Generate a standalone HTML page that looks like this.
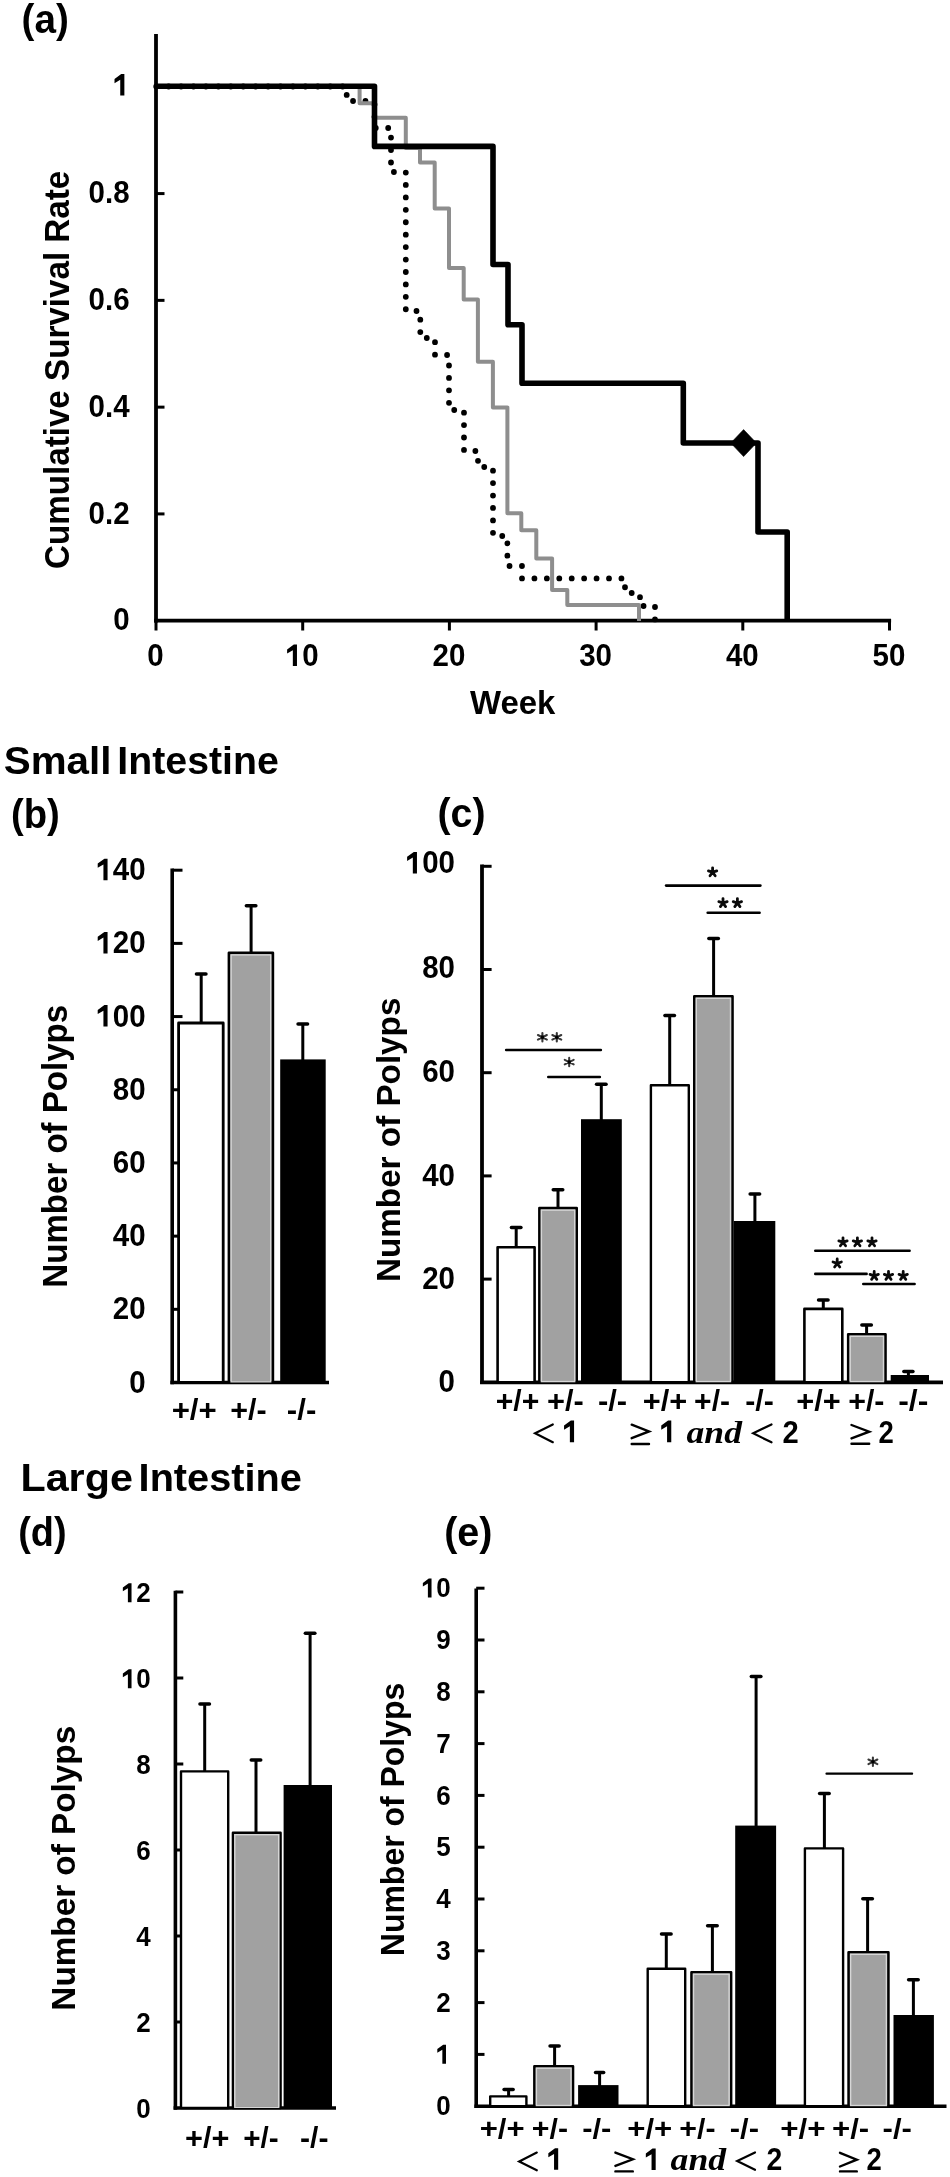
<!DOCTYPE html>
<html><head><meta charset="utf-8"><title>Figure</title>
<style>
html,body{margin:0;padding:0;background:#fff;width:950px;height:2177px;overflow:hidden;}
svg{display:block;font-family:"Liberation Sans",sans-serif;filter:grayscale(100%);}
</style></head><body>
<svg width="950" height="2177" viewBox="0 0 950 2177">
<text x="21.57" y="33.4" textLength="47.26" lengthAdjust="spacingAndGlyphs" style="font-family:'Liberation Sans', sans-serif;font-size:40.5px;font-weight:bold;" fill="#000">(a)</text>
<line x1="156" y1="34" x2="156" y2="622.6" stroke="#000" stroke-width="3.8" stroke-linecap="butt"/>
<line x1="154.1" y1="620.7" x2="891.1" y2="620.7" stroke="#000" stroke-width="3.8" stroke-linecap="butt"/>
<text x="113.19" y="630.5" text-anchor="start" style="font-family:'Liberation Sans', sans-serif;font-size:29.5px;font-weight:bold;" fill="#000" transform="matrix(1 0 0 1.0350 0 -22.067)">0</text>
<line x1="156" y1="513.92" x2="164.5" y2="513.92" stroke="#000" stroke-width="3" stroke-linecap="butt"/>
<text x="88.59" y="523.72" text-anchor="start" style="font-family:'Liberation Sans', sans-serif;font-size:29.5px;font-weight:bold;" fill="#000" transform="matrix(1 0 0 1.0350 0 -18.330)">0.2</text>
<line x1="156" y1="407.14" x2="164.5" y2="407.14" stroke="#000" stroke-width="3" stroke-linecap="butt"/>
<text x="88.59" y="416.94" text-anchor="start" style="font-family:'Liberation Sans', sans-serif;font-size:29.5px;font-weight:bold;" fill="#000" transform="matrix(1 0 0 1.0350 0 -14.593)">0.4</text>
<line x1="156" y1="300.36" x2="164.5" y2="300.36" stroke="#000" stroke-width="3" stroke-linecap="butt"/>
<text x="88.59" y="310.16" text-anchor="start" style="font-family:'Liberation Sans', sans-serif;font-size:29.5px;font-weight:bold;" fill="#000" transform="matrix(1 0 0 1.0350 0 -10.856)">0.6</text>
<line x1="156" y1="193.58" x2="164.5" y2="193.58" stroke="#000" stroke-width="3" stroke-linecap="butt"/>
<text x="88.59" y="203.38" text-anchor="start" style="font-family:'Liberation Sans', sans-serif;font-size:29.5px;font-weight:bold;" fill="#000" transform="matrix(1 0 0 1.0350 0 -7.118)">0.8</text>
<line x1="156" y1="86.8" x2="164.5" y2="86.8" stroke="#000" stroke-width="3" stroke-linecap="butt"/>
<path d="M124.37,95.6 L124.37,74.12 L121.22,74.12 L114.52,79.02 L114.52,83.15 L120.24,79.79 L120.24,95.6Z" fill="#000"/>
<line x1="156" y1="620.7" x2="156" y2="630.5" stroke="#000" stroke-width="3" stroke-linecap="butt"/>
<text x="147.3" y="666" text-anchor="start" style="font-family:'Liberation Sans', sans-serif;font-size:29.5px;font-weight:bold;" fill="#000" transform="matrix(1 0 0 1.0350 0 -23.310)">0</text>
<line x1="302.7" y1="620.7" x2="302.7" y2="630.5" stroke="#000" stroke-width="3" stroke-linecap="butt"/>
<path d="M296.97,666 L296.97,644.52 L293.82,644.52 L287.12,649.42 L287.12,653.55 L292.84,650.19 L292.84,666Z" fill="#000"/>
<text x="302.2" y="666" text-anchor="start" style="font-family:'Liberation Sans', sans-serif;font-size:29.5px;font-weight:bold;" fill="#000" transform="matrix(1 0 0 1.0350 0 -23.310)">0</text>
<line x1="449.4" y1="620.7" x2="449.4" y2="630.5" stroke="#000" stroke-width="3" stroke-linecap="butt"/>
<text x="432.49" y="666" text-anchor="start" style="font-family:'Liberation Sans', sans-serif;font-size:29.5px;font-weight:bold;" fill="#000" transform="matrix(1 0 0 1.0350 0 -23.310)">20</text>
<line x1="596.1" y1="620.7" x2="596.1" y2="630.5" stroke="#000" stroke-width="3" stroke-linecap="butt"/>
<text x="579.19" y="666" text-anchor="start" style="font-family:'Liberation Sans', sans-serif;font-size:29.5px;font-weight:bold;" fill="#000" transform="matrix(1 0 0 1.0350 0 -23.310)">30</text>
<line x1="742.8" y1="620.7" x2="742.8" y2="630.5" stroke="#000" stroke-width="3" stroke-linecap="butt"/>
<text x="725.89" y="666" text-anchor="start" style="font-family:'Liberation Sans', sans-serif;font-size:29.5px;font-weight:bold;" fill="#000" transform="matrix(1 0 0 1.0350 0 -23.310)">40</text>
<line x1="889.5" y1="620.7" x2="889.5" y2="630.5" stroke="#000" stroke-width="3" stroke-linecap="butt"/>
<text x="872.59" y="666" text-anchor="start" style="font-family:'Liberation Sans', sans-serif;font-size:29.5px;font-weight:bold;" fill="#000" transform="matrix(1 0 0 1.0350 0 -23.310)">50</text>
<text x="470" y="714.4" textLength="85.28" lengthAdjust="spacingAndGlyphs" style="font-family:'Liberation Sans', sans-serif;font-size:34px;font-weight:bold;" fill="#000">Week</text>
<text transform="translate(68.7,0) rotate(-90)" x="-569.03" y="0" textLength="398.28" lengthAdjust="spacingAndGlyphs" style="font-family:'Liberation Sans', sans-serif;font-size:35.2px;font-weight:bold;">Cumulative Survival Rate</text>
<path d="M156,86.5 L346.7,86.5 L346.7,101 L374.5,101 L374.5,128 L391,128 L391,172 L405.8,172 L405.8,311 L420.3,311 L420.3,338 L435,338 L435,355 L449,355 L449,410 L464,410 L464,451 L478,451 L478,467 L493,467 L493,536 L507.4,536 L507.4,566 L522,566 L522,578.4 L625,578.4 L625,593 L640,593 L640,606 L655,606 L655,620.7" fill="none" stroke="#000" stroke-width="5.8" stroke-linecap="round" stroke-dasharray="0 12.43" stroke-dashoffset="-0.23"/>
<path d="M156,86.5 L359.6,86.5 L359.6,103.2 L375,103.2 L375,117.7 L405.8,117.7 L405.8,148 L420,148 L420,162.6 L434.7,162.6 L434.7,208.4 L449,208.4 L449,267.9 L463.7,267.9 L463.7,299.5 L477.9,299.5 L477.9,361.8 L492.9,361.8 L492.9,407.4 L507.4,407.4 L507.4,513.2 L521.3,513.2 L521.3,530.2 L536.3,530.2 L536.3,558.5 L552.1,558.5 L552.1,590 L567.3,590 L567.3,604.9 L639,604.9 L639,621" fill="none" stroke="#8e8e8e" stroke-width="4.0" stroke-linejoin="round"/>
<path d="M156,86.3 L374.5,86.3 L374.5,146.4 L493,146.4 L493,264.5 L508,264.5 L508,324.7 L522,324.7 L522,383.2 L683.3,383.2 L683.3,443 L758,443 L758,532 L787.2,532 L787.2,620.7" fill="none" stroke="#000" stroke-width="5.6" stroke-linejoin="round"/>
<path d="M743.6,429.6 L756.4,443 L743.6,456.6 L730.8,443 Z" fill="#000" stroke="#000" stroke-width="0.6" stroke-linejoin="round"/>
<text x="3.69" y="774" textLength="107.76" lengthAdjust="spacingAndGlyphs" style="font-family:'Liberation Sans', sans-serif;font-size:39.5px;font-weight:bold;" fill="#000">Small</text>
<text x="117.35" y="774" textLength="161.5" lengthAdjust="spacingAndGlyphs" style="font-family:'Liberation Sans', sans-serif;font-size:39.5px;font-weight:bold;" fill="#000">Intestine</text>
<text x="20.42" y="1491.3" textLength="112.46" lengthAdjust="spacingAndGlyphs" style="font-family:'Liberation Sans', sans-serif;font-size:39.5px;font-weight:bold;" fill="#000">Large</text>
<text x="138.62" y="1491.3" textLength="163.15" lengthAdjust="spacingAndGlyphs" style="font-family:'Liberation Sans', sans-serif;font-size:39.5px;font-weight:bold;" fill="#000">Intestine</text>
<text x="10.98" y="827.6" textLength="48.91" lengthAdjust="spacingAndGlyphs" style="font-family:'Liberation Sans', sans-serif;font-size:40.5px;font-weight:bold;" fill="#000">(b)</text>
<line x1="172.2" y1="868.5" x2="172.2" y2="1384.3" stroke="#000" stroke-width="3.6" stroke-linecap="butt"/>
<line x1="170.4" y1="1382.5" x2="329" y2="1382.5" stroke="#000" stroke-width="3.6" stroke-linecap="butt"/>
<text x="129.19" y="1392.5" text-anchor="start" style="font-family:'Liberation Sans', sans-serif;font-size:29.5px;font-weight:bold;" fill="#000" transform="matrix(1 0 0 1.0350 0 -48.737)">0</text>
<line x1="172.2" y1="1309.31" x2="182.5" y2="1309.31" stroke="#000" stroke-width="3" stroke-linecap="butt"/>
<text x="112.79" y="1319.31" text-anchor="start" style="font-family:'Liberation Sans', sans-serif;font-size:29.5px;font-weight:bold;" fill="#000" transform="matrix(1 0 0 1.0350 0 -46.176)">20</text>
<line x1="172.2" y1="1236.13" x2="182.5" y2="1236.13" stroke="#000" stroke-width="3" stroke-linecap="butt"/>
<text x="112.79" y="1246.13" text-anchor="start" style="font-family:'Liberation Sans', sans-serif;font-size:29.5px;font-weight:bold;" fill="#000" transform="matrix(1 0 0 1.0350 0 -43.614)">40</text>
<line x1="172.2" y1="1162.94" x2="182.5" y2="1162.94" stroke="#000" stroke-width="3" stroke-linecap="butt"/>
<text x="112.79" y="1172.94" text-anchor="start" style="font-family:'Liberation Sans', sans-serif;font-size:29.5px;font-weight:bold;" fill="#000" transform="matrix(1 0 0 1.0350 0 -41.053)">60</text>
<line x1="172.2" y1="1089.76" x2="182.5" y2="1089.76" stroke="#000" stroke-width="3" stroke-linecap="butt"/>
<text x="112.79" y="1099.76" text-anchor="start" style="font-family:'Liberation Sans', sans-serif;font-size:29.5px;font-weight:bold;" fill="#000" transform="matrix(1 0 0 1.0350 0 -38.491)">80</text>
<line x1="172.2" y1="1016.57" x2="182.5" y2="1016.57" stroke="#000" stroke-width="3" stroke-linecap="butt"/>
<path d="M107.56,1026.57 L107.56,1005.1 L104.4,1005.1 L97.71,1009.99 L97.71,1014.12 L103.43,1010.76 L103.43,1026.57Z" fill="#000"/>
<text x="112.79" y="1026.57" text-anchor="start" style="font-family:'Liberation Sans', sans-serif;font-size:29.5px;font-weight:bold;" fill="#000" transform="matrix(1 0 0 1.0350 0 -35.930)">00</text>
<line x1="172.2" y1="943.39" x2="182.5" y2="943.39" stroke="#000" stroke-width="3" stroke-linecap="butt"/>
<path d="M107.56,953.39 L107.56,931.91 L104.4,931.91 L97.71,936.81 L97.71,940.94 L103.43,937.57 L103.43,953.39Z" fill="#000"/>
<text x="112.79" y="953.39" text-anchor="start" style="font-family:'Liberation Sans', sans-serif;font-size:29.5px;font-weight:bold;" fill="#000" transform="matrix(1 0 0 1.0350 0 -33.368)">20</text>
<line x1="172.2" y1="870.2" x2="182.5" y2="870.2" stroke="#000" stroke-width="3" stroke-linecap="butt"/>
<path d="M107.56,880.2 L107.56,858.72 L104.4,858.72 L97.71,863.62 L97.71,867.75 L103.43,864.39 L103.43,880.2Z" fill="#000"/>
<text x="112.79" y="880.2" text-anchor="start" style="font-family:'Liberation Sans', sans-serif;font-size:29.5px;font-weight:bold;" fill="#000" transform="matrix(1 0 0 1.0350 0 -30.807)">40</text>
<rect x="178.6" y="1023" width="44.6" height="359.5" fill="#fff" stroke="#000" stroke-width="2.8" stroke-linejoin="round"/>
<rect x="229" y="952.8" width="43.8" height="429.7" fill="#a1a1a1" stroke="#000" stroke-width="2.8" stroke-linejoin="round"/>
<rect x="231.1" y="954.9" width="39.6" height="426.9" fill="none" stroke="#d6d6d6" stroke-width="1.4"/>
<rect x="280.2" y="1059.4" width="45.5" height="323.1" fill="#000"/>
<line x1="201.2" y1="1022" x2="201.2" y2="974" stroke="#000" stroke-width="3" stroke-linecap="butt"/>
<line x1="196.45" y1="974" x2="205.95" y2="974" stroke="#000" stroke-width="3.5" stroke-linecap="round"/>
<line x1="251.1" y1="952" x2="251.1" y2="905.8" stroke="#000" stroke-width="3" stroke-linecap="butt"/>
<line x1="246.35" y1="905.8" x2="255.85" y2="905.8" stroke="#000" stroke-width="3.5" stroke-linecap="round"/>
<line x1="302.8" y1="1060" x2="302.8" y2="1024" stroke="#000" stroke-width="3" stroke-linecap="butt"/>
<line x1="298.05" y1="1024" x2="307.55" y2="1024" stroke="#000" stroke-width="3.5" stroke-linecap="round"/>
<text x="171.65" y="1419.5" textLength="45.12" lengthAdjust="spacingAndGlyphs" style="font-family:'Liberation Sans', sans-serif;font-size:30px;font-weight:bold;" fill="#000">+/+</text>
<text x="230.28" y="1419.5" textLength="36.43" lengthAdjust="spacingAndGlyphs" style="font-family:'Liberation Sans', sans-serif;font-size:30px;font-weight:bold;" fill="#000">+/-</text>
<text x="286.85" y="1419.5" textLength="29.46" lengthAdjust="spacingAndGlyphs" style="font-family:'Liberation Sans', sans-serif;font-size:30px;font-weight:bold;" fill="#000">-/-</text>
<text transform="translate(66.6,0) rotate(-90)" x="-1287.65" y="0" textLength="282.83" lengthAdjust="spacingAndGlyphs" style="font-family:'Liberation Sans', sans-serif;font-size:35px;font-weight:bold;">Number of Polyps</text>
<text x="437.54" y="827" textLength="48.02" lengthAdjust="spacingAndGlyphs" style="font-family:'Liberation Sans', sans-serif;font-size:40.5px;font-weight:bold;" fill="#000">(c)</text>
<line x1="482" y1="864.5" x2="482" y2="1384.1" stroke="#000" stroke-width="3.8" stroke-linecap="butt"/>
<line x1="480.1" y1="1382.3" x2="943" y2="1382.3" stroke="#000" stroke-width="3.8" stroke-linecap="butt"/>
<text x="438.59" y="1392.2" text-anchor="start" style="font-family:'Liberation Sans', sans-serif;font-size:29.5px;font-weight:bold;" fill="#000" transform="matrix(1 0 0 1.0350 0 -48.727)">0</text>
<line x1="482" y1="1279.1" x2="491.6" y2="1279.1" stroke="#000" stroke-width="3" stroke-linecap="butt"/>
<text x="422.19" y="1288.9" text-anchor="start" style="font-family:'Liberation Sans', sans-serif;font-size:29.5px;font-weight:bold;" fill="#000" transform="matrix(1 0 0 1.0350 0 -45.111)">20</text>
<line x1="482" y1="1175.9" x2="491.6" y2="1175.9" stroke="#000" stroke-width="3" stroke-linecap="butt"/>
<text x="422.19" y="1186.2" text-anchor="start" style="font-family:'Liberation Sans', sans-serif;font-size:29.5px;font-weight:bold;" fill="#000" transform="matrix(1 0 0 1.0350 0 -41.517)">40</text>
<line x1="482" y1="1072.7" x2="491.6" y2="1072.7" stroke="#000" stroke-width="3" stroke-linecap="butt"/>
<text x="422.19" y="1081.8" text-anchor="start" style="font-family:'Liberation Sans', sans-serif;font-size:29.5px;font-weight:bold;" fill="#000" transform="matrix(1 0 0 1.0350 0 -37.863)">60</text>
<line x1="482" y1="969.5" x2="491.6" y2="969.5" stroke="#000" stroke-width="3" stroke-linecap="butt"/>
<text x="422.19" y="978.1" text-anchor="start" style="font-family:'Liberation Sans', sans-serif;font-size:29.5px;font-weight:bold;" fill="#000" transform="matrix(1 0 0 1.0350 0 -34.233)">80</text>
<line x1="482" y1="866.3" x2="491.6" y2="866.3" stroke="#000" stroke-width="3" stroke-linecap="butt"/>
<path d="M416.96,873.4 L416.96,851.92 L413.8,851.92 L407.11,856.82 L407.11,860.95 L412.83,857.59 L412.83,873.4Z" fill="#000"/>
<text x="422.19" y="873.4" text-anchor="start" style="font-family:'Liberation Sans', sans-serif;font-size:29.5px;font-weight:bold;" fill="#000" transform="matrix(1 0 0 1.0350 0 -30.569)">00</text>
<rect x="497.6" y="1247.3" width="37" height="135" fill="#fff" stroke="#000" stroke-width="2.6" stroke-linejoin="round"/>
<rect x="539.4" y="1208.1" width="37.3" height="174.2" fill="#a1a1a1" stroke="#000" stroke-width="2.6" stroke-linejoin="round"/>
<rect x="541.4" y="1210.1" width="33.3" height="171.5" fill="none" stroke="#d6d6d6" stroke-width="1.4"/>
<rect x="581" y="1119.2" width="40.8" height="263.1" fill="#000"/>
<line x1="516.2" y1="1247" x2="516.2" y2="1227.4" stroke="#000" stroke-width="3" stroke-linecap="butt"/>
<line x1="511.45" y1="1227.4" x2="520.95" y2="1227.4" stroke="#000" stroke-width="3.5" stroke-linecap="round"/>
<line x1="558" y1="1208" x2="558" y2="1189.8" stroke="#000" stroke-width="3" stroke-linecap="butt"/>
<line x1="553.25" y1="1189.8" x2="562.75" y2="1189.8" stroke="#000" stroke-width="3.5" stroke-linecap="round"/>
<line x1="601.3" y1="1121" x2="601.3" y2="1084.2" stroke="#000" stroke-width="3" stroke-linecap="butt"/>
<line x1="596.55" y1="1084.2" x2="606.05" y2="1084.2" stroke="#000" stroke-width="3.5" stroke-linecap="round"/>
<rect x="650.9" y="1085.2" width="37.9" height="297.1" fill="#fff" stroke="#000" stroke-width="2.4" stroke-linejoin="round"/>
<rect x="694.3" y="996.3" width="38.2" height="386" fill="#a1a1a1" stroke="#000" stroke-width="2.6" stroke-linejoin="round"/>
<rect x="696.3" y="998.3" width="34.2" height="383.3" fill="none" stroke="#d6d6d6" stroke-width="1.4"/>
<rect x="733.8" y="1221" width="41.5" height="161.3" fill="#000"/>
<line x1="669.7" y1="1086" x2="669.7" y2="1015.5" stroke="#000" stroke-width="3" stroke-linecap="butt"/>
<line x1="664.95" y1="1015.5" x2="674.45" y2="1015.5" stroke="#000" stroke-width="3.5" stroke-linecap="round"/>
<line x1="713.6" y1="997" x2="713.6" y2="938.5" stroke="#000" stroke-width="3" stroke-linecap="butt"/>
<line x1="708.85" y1="938.5" x2="718.35" y2="938.5" stroke="#000" stroke-width="3.5" stroke-linecap="round"/>
<line x1="754.9" y1="1222" x2="754.9" y2="1194.1" stroke="#000" stroke-width="3" stroke-linecap="butt"/>
<line x1="750.15" y1="1194.1" x2="759.65" y2="1194.1" stroke="#000" stroke-width="3.5" stroke-linecap="round"/>
<rect x="804.4" y="1308.9" width="37.9" height="73.4" fill="#fff" stroke="#000" stroke-width="2.6" stroke-linejoin="round"/>
<rect x="848.2" y="1334.3" width="37.3" height="48" fill="#a1a1a1" stroke="#000" stroke-width="2.6" stroke-linejoin="round"/>
<rect x="850.2" y="1336.3" width="33.3" height="45.3" fill="none" stroke="#d6d6d6" stroke-width="1.4"/>
<rect x="890.7" y="1375" width="38.3" height="7.3" fill="#000"/>
<line x1="823.3" y1="1309" x2="823.3" y2="1300" stroke="#000" stroke-width="3" stroke-linecap="butt"/>
<line x1="818.55" y1="1300" x2="828.05" y2="1300" stroke="#000" stroke-width="3.5" stroke-linecap="round"/>
<line x1="866.6" y1="1334" x2="866.6" y2="1324.9" stroke="#000" stroke-width="3" stroke-linecap="butt"/>
<line x1="861.85" y1="1324.9" x2="871.35" y2="1324.9" stroke="#000" stroke-width="3.5" stroke-linecap="round"/>
<line x1="908.4" y1="1376" x2="908.4" y2="1371.6" stroke="#000" stroke-width="3" stroke-linecap="butt"/>
<line x1="903.85" y1="1371.6" x2="912.95" y2="1371.6" stroke="#000" stroke-width="3.5" stroke-linecap="round"/>
<line x1="506.1" y1="1050" x2="600.9" y2="1050" stroke="#000" stroke-width="2.4" stroke-linecap="round"/>
<line x1="548.2" y1="1077" x2="599.9" y2="1077" stroke="#000" stroke-width="2.4" stroke-linecap="round"/>
<path d="M542.4,1033.1L542.4,1041.5M537.94,1035.03L546.86,1039.57M537.94,1039.57L546.86,1035.03" stroke="#383838" stroke-width="2.1" stroke-linecap="round" fill="none"/>
<circle cx="542.4" cy="1037.3" r="1.8" fill="#000"/>
<path d="M556.8,1033.1L556.8,1041.5M552.34,1035.03L561.26,1039.57M552.34,1039.57L561.26,1035.03" stroke="#383838" stroke-width="2.1" stroke-linecap="round" fill="none"/>
<circle cx="556.8" cy="1037.3" r="1.8" fill="#000"/>
<path d="M569.2,1057.9L569.2,1066.3M564.74,1059.83L573.66,1064.37M564.74,1064.37L573.66,1059.83" stroke="#383838" stroke-width="2.1" stroke-linecap="round" fill="none"/>
<circle cx="569.2" cy="1062.1" r="1.8" fill="#000"/>
<line x1="666.1" y1="885.6" x2="760.4" y2="885.6" stroke="#000" stroke-width="2.6" stroke-linecap="round"/>
<line x1="707.7" y1="912.8" x2="759.6" y2="912.8" stroke="#000" stroke-width="2.6" stroke-linecap="round"/>
<path d="M712.6,872.2L712.6,867.8M712.6,872.2L716.78,870.84M712.6,872.2L715.19,875.76M712.6,872.2L710.01,875.76M712.6,872.2L708.42,870.84" stroke="#0a0a0a" stroke-width="2.8" stroke-linecap="round" fill="none"/>
<path d="M723,903L723,898.6M723,903L727.18,901.64M723,903L725.59,906.56M723,903L720.41,906.56M723,903L718.82,901.64" stroke="#0a0a0a" stroke-width="2.8" stroke-linecap="round" fill="none"/>
<path d="M737.4,903L737.4,898.6M737.4,903L741.58,901.64M737.4,903L739.99,906.56M737.4,903L734.81,906.56M737.4,903L733.22,901.64" stroke="#0a0a0a" stroke-width="2.8" stroke-linecap="round" fill="none"/>
<line x1="815.3" y1="1250.8" x2="909.6" y2="1250.8" stroke="#000" stroke-width="2.6" stroke-linecap="round"/>
<line x1="815.3" y1="1273.9" x2="866.6" y2="1273.9" stroke="#000" stroke-width="2.6" stroke-linecap="round"/>
<line x1="863.3" y1="1284" x2="914.6" y2="1284" stroke="#000" stroke-width="2.6" stroke-linecap="round"/>
<path d="M843,1242.2L843,1237.8M843,1242.2L847.18,1240.84M843,1242.2L845.59,1245.76M843,1242.2L840.41,1245.76M843,1242.2L838.82,1240.84" stroke="#0a0a0a" stroke-width="2.8" stroke-linecap="round" fill="none"/>
<path d="M857.4,1242.2L857.4,1237.8M857.4,1242.2L861.58,1240.84M857.4,1242.2L859.99,1245.76M857.4,1242.2L854.81,1245.76M857.4,1242.2L853.22,1240.84" stroke="#0a0a0a" stroke-width="2.8" stroke-linecap="round" fill="none"/>
<path d="M872,1242.2L872,1237.8M872,1242.2L876.18,1240.84M872,1242.2L874.59,1245.76M872,1242.2L869.41,1245.76M872,1242.2L867.82,1240.84" stroke="#0a0a0a" stroke-width="2.8" stroke-linecap="round" fill="none"/>
<path d="M837.2,1263.4L837.2,1259M837.2,1263.4L841.38,1262.04M837.2,1263.4L839.79,1266.96M837.2,1263.4L834.61,1266.96M837.2,1263.4L833.02,1262.04" stroke="#0a0a0a" stroke-width="2.8" stroke-linecap="round" fill="none"/>
<path d="M874.2,1275.8L874.2,1271.4M874.2,1275.8L878.38,1274.44M874.2,1275.8L876.79,1279.36M874.2,1275.8L871.61,1279.36M874.2,1275.8L870.02,1274.44" stroke="#0a0a0a" stroke-width="2.8" stroke-linecap="round" fill="none"/>
<path d="M888.5,1275.8L888.5,1271.4M888.5,1275.8L892.68,1274.44M888.5,1275.8L891.09,1279.36M888.5,1275.8L885.91,1279.36M888.5,1275.8L884.32,1274.44" stroke="#0a0a0a" stroke-width="2.8" stroke-linecap="round" fill="none"/>
<path d="M903.2,1275.8L903.2,1271.4M903.2,1275.8L907.38,1274.44M903.2,1275.8L905.79,1279.36M903.2,1275.8L900.61,1279.36M903.2,1275.8L899.02,1274.44" stroke="#0a0a0a" stroke-width="2.8" stroke-linecap="round" fill="none"/>
<text x="495.69" y="1411" textLength="43.64" lengthAdjust="spacingAndGlyphs" style="font-family:'Liberation Sans', sans-serif;font-size:30px;font-weight:bold;" fill="#000">+/+</text>
<text x="546.97" y="1411" textLength="36.76" lengthAdjust="spacingAndGlyphs" style="font-family:'Liberation Sans', sans-serif;font-size:30px;font-weight:bold;" fill="#000">+/-</text>
<text x="597.96" y="1411" textLength="29.24" lengthAdjust="spacingAndGlyphs" style="font-family:'Liberation Sans', sans-serif;font-size:30px;font-weight:bold;" fill="#000">-/-</text>
<text x="642.67" y="1411" textLength="44.49" lengthAdjust="spacingAndGlyphs" style="font-family:'Liberation Sans', sans-serif;font-size:30px;font-weight:bold;" fill="#000">+/+</text>
<text x="694.1" y="1411" textLength="35.9" lengthAdjust="spacingAndGlyphs" style="font-family:'Liberation Sans', sans-serif;font-size:30px;font-weight:bold;" fill="#000">+/-</text>
<text x="745.29" y="1411" textLength="28.59" lengthAdjust="spacingAndGlyphs" style="font-family:'Liberation Sans', sans-serif;font-size:30px;font-weight:bold;" fill="#000">-/-</text>
<text x="796.27" y="1411" textLength="44.49" lengthAdjust="spacingAndGlyphs" style="font-family:'Liberation Sans', sans-serif;font-size:30px;font-weight:bold;" fill="#000">+/+</text>
<text x="848.18" y="1411" textLength="36.33" lengthAdjust="spacingAndGlyphs" style="font-family:'Liberation Sans', sans-serif;font-size:30px;font-weight:bold;" fill="#000">+/-</text>
<text x="898.22" y="1411" textLength="30.12" lengthAdjust="spacingAndGlyphs" style="font-family:'Liberation Sans', sans-serif;font-size:30px;font-weight:bold;" fill="#000">-/-</text>
<path d="M552.8,1424.5L535.1,1433.35L552.8,1442.2" stroke="#000" stroke-width="2.2" fill="none" stroke-linecap="round" stroke-linejoin="miter"/>
<path d="M574.07,1442.3 L574.07,1420.46 L570.86,1420.46 L564.05,1425.44 L564.05,1429.64 L569.87,1426.22 L569.87,1442.3Z" fill="#000"/>
<path d="M631.7,1424.7L649,1431.45L631.7,1438.2M631.7,1444L649,1444" stroke="#000" stroke-width="2.4" fill="none" stroke-linecap="round"/>
<path d="M671.27,1442.3 L671.27,1420.46 L668.06,1420.46 L661.25,1425.44 L661.25,1429.64 L667.07,1426.22 L667.07,1442.3Z" fill="#000"/>
<text x="686.54" y="1442.8" textLength="55.44" lengthAdjust="spacingAndGlyphs" style="font-family:'Liberation Serif', serif;font-size:30.5px;font-weight:bold;font-style:italic;" fill="#000">and</text>
<path d="M771.5,1424.4L753.2,1433.35L771.5,1442.3" stroke="#000" stroke-width="2.2" fill="none" stroke-linecap="round" stroke-linejoin="miter"/>
<text x="782.48" y="1442.8" textLength="16.22" lengthAdjust="spacingAndGlyphs" style="font-family:'Liberation Sans', sans-serif;font-size:30px;font-weight:bold;" fill="#000" transform="matrix(1 0 0 1.0350 0 -50.498)">2</text>
<path d="M851.5,1425L869.2,1431.7L851.5,1438.4M851.5,1443.8L869.2,1443.8" stroke="#000" stroke-width="2.4" fill="none" stroke-linecap="round"/>
<text x="878.54" y="1442.8" textLength="15.29" lengthAdjust="spacingAndGlyphs" style="font-family:'Liberation Sans', sans-serif;font-size:30px;font-weight:bold;" fill="#000" transform="matrix(1 0 0 1.0350 0 -50.498)">2</text>
<text transform="translate(400,0) rotate(-90)" x="-1282.06" y="0" textLength="284.45" lengthAdjust="spacingAndGlyphs" style="font-family:'Liberation Sans', sans-serif;font-size:34px;font-weight:bold;">Number of Polyps</text>
<text x="18.21" y="1545.5" textLength="48.37" lengthAdjust="spacingAndGlyphs" style="font-family:'Liberation Sans', sans-serif;font-size:40.5px;font-weight:bold;" fill="#000">(d)</text>
<line x1="175.4" y1="1590.7" x2="175.4" y2="2109.8" stroke="#000" stroke-width="3.6" stroke-linecap="butt"/>
<line x1="173.6" y1="2108" x2="336" y2="2108" stroke="#000" stroke-width="3.6" stroke-linecap="butt"/>
<text x="136.14" y="2118.2" text-anchor="start" style="font-family:'Liberation Sans', sans-serif;font-size:26px;font-weight:bold;" fill="#000" transform="matrix(1 0 0 1.0350 0 -74.137)">0</text>
<line x1="175.4" y1="2022" x2="183.3" y2="2022" stroke="#000" stroke-width="3" stroke-linecap="butt"/>
<text x="136.14" y="2032.2" text-anchor="start" style="font-family:'Liberation Sans', sans-serif;font-size:26px;font-weight:bold;" fill="#000" transform="matrix(1 0 0 1.0350 0 -71.127)">2</text>
<line x1="175.4" y1="1936" x2="183.3" y2="1936" stroke="#000" stroke-width="3" stroke-linecap="butt"/>
<text x="136.14" y="1946.2" text-anchor="start" style="font-family:'Liberation Sans', sans-serif;font-size:26px;font-weight:bold;" fill="#000" transform="matrix(1 0 0 1.0350 0 -68.117)">4</text>
<line x1="175.4" y1="1850" x2="183.3" y2="1850" stroke="#000" stroke-width="3" stroke-linecap="butt"/>
<text x="136.14" y="1860.2" text-anchor="start" style="font-family:'Liberation Sans', sans-serif;font-size:26px;font-weight:bold;" fill="#000" transform="matrix(1 0 0 1.0350 0 -65.107)">6</text>
<line x1="175.4" y1="1764" x2="183.3" y2="1764" stroke="#000" stroke-width="3" stroke-linecap="butt"/>
<text x="136.14" y="1774.2" text-anchor="start" style="font-family:'Liberation Sans', sans-serif;font-size:26px;font-weight:bold;" fill="#000" transform="matrix(1 0 0 1.0350 0 -62.097)">8</text>
<line x1="175.4" y1="1678" x2="183.3" y2="1678" stroke="#000" stroke-width="3" stroke-linecap="butt"/>
<path d="M131.53,1688.2 L131.53,1669.27 L128.75,1669.27 L122.85,1673.59 L122.85,1677.23 L127.89,1674.26 L127.89,1688.2Z" fill="#000"/>
<text x="136.14" y="1688.2" text-anchor="start" style="font-family:'Liberation Sans', sans-serif;font-size:26px;font-weight:bold;" fill="#000" transform="matrix(1 0 0 1.0350 0 -59.087)">0</text>
<line x1="175.4" y1="1592" x2="183.3" y2="1592" stroke="#000" stroke-width="3" stroke-linecap="butt"/>
<path d="M131.53,1602.2 L131.53,1583.27 L128.75,1583.27 L122.85,1587.59 L122.85,1591.23 L127.89,1588.26 L127.89,1602.2Z" fill="#000"/>
<text x="136.14" y="1602.2" text-anchor="start" style="font-family:'Liberation Sans', sans-serif;font-size:26px;font-weight:bold;" fill="#000" transform="matrix(1 0 0 1.0350 0 -56.077)">2</text>
<rect x="181" y="1771.4" width="47.2" height="336.6" fill="#fff" stroke="#000" stroke-width="2.4" stroke-linejoin="round"/>
<rect x="232.9" y="1832.8" width="47.7" height="275.2" fill="#a1a1a1" stroke="#000" stroke-width="2.4" stroke-linejoin="round"/>
<rect x="234.8" y="1834.7" width="43.9" height="272.6" fill="none" stroke="#d6d6d6" stroke-width="1.4"/>
<rect x="283.6" y="1785" width="48.4" height="323" fill="#000"/>
<line x1="204.7" y1="1771" x2="204.7" y2="1703.9" stroke="#000" stroke-width="3" stroke-linecap="butt"/>
<line x1="199.95" y1="1703.9" x2="209.45" y2="1703.9" stroke="#000" stroke-width="3.5" stroke-linecap="round"/>
<line x1="256" y1="1833" x2="256" y2="1760" stroke="#000" stroke-width="3" stroke-linecap="butt"/>
<line x1="251.25" y1="1760" x2="260.75" y2="1760" stroke="#000" stroke-width="3.5" stroke-linecap="round"/>
<line x1="310.1" y1="1786" x2="310.1" y2="1633.2" stroke="#000" stroke-width="3" stroke-linecap="butt"/>
<line x1="305.35" y1="1633.2" x2="314.85" y2="1633.2" stroke="#000" stroke-width="3.5" stroke-linecap="round"/>
<text x="185.07" y="2147.5" textLength="44.38" lengthAdjust="spacingAndGlyphs" style="font-family:'Liberation Sans', sans-serif;font-size:30px;font-weight:bold;" fill="#000">+/+</text>
<text x="243.21" y="2147.5" textLength="35.47" lengthAdjust="spacingAndGlyphs" style="font-family:'Liberation Sans', sans-serif;font-size:30px;font-weight:bold;" fill="#000">+/-</text>
<text x="299.99" y="2147.5" textLength="28.48" lengthAdjust="spacingAndGlyphs" style="font-family:'Liberation Sans', sans-serif;font-size:30px;font-weight:bold;" fill="#000">-/-</text>
<text transform="translate(75.3,0) rotate(-90)" x="-2010.66" y="0" textLength="284.86" lengthAdjust="spacingAndGlyphs" style="font-family:'Liberation Sans', sans-serif;font-size:34px;font-weight:bold;">Number of Polyps</text>
<text x="444.13" y="1545.6" textLength="48.24" lengthAdjust="spacingAndGlyphs" style="font-family:'Liberation Sans', sans-serif;font-size:40.5px;font-weight:bold;" fill="#000">(e)</text>
<line x1="476.2" y1="1588.5" x2="476.2" y2="2108" stroke="#000" stroke-width="3.6" stroke-linecap="butt"/>
<line x1="474.4" y1="2106.2" x2="946.5" y2="2106.2" stroke="#000" stroke-width="3.6" stroke-linecap="butt"/>
<text x="436.14" y="2115.5" text-anchor="start" style="font-family:'Liberation Sans', sans-serif;font-size:26px;font-weight:bold;" fill="#000" transform="matrix(1 0 0 1.0350 0 -74.042)">0</text>
<line x1="476.2" y1="2054.4" x2="484.5" y2="2054.4" stroke="#000" stroke-width="3" stroke-linecap="butt"/>
<path d="M445.99,2063.7 L445.99,2044.77 L443.21,2044.77 L437.31,2049.09 L437.31,2052.73 L442.35,2049.76 L442.35,2063.7Z" fill="#000"/>
<line x1="476.2" y1="2002.6" x2="484.5" y2="2002.6" stroke="#000" stroke-width="3" stroke-linecap="butt"/>
<text x="436.14" y="2011.9" text-anchor="start" style="font-family:'Liberation Sans', sans-serif;font-size:26px;font-weight:bold;" fill="#000" transform="matrix(1 0 0 1.0350 0 -70.416)">2</text>
<line x1="476.2" y1="1950.8" x2="484.5" y2="1950.8" stroke="#000" stroke-width="3" stroke-linecap="butt"/>
<text x="436.14" y="1960.1" text-anchor="start" style="font-family:'Liberation Sans', sans-serif;font-size:26px;font-weight:bold;" fill="#000" transform="matrix(1 0 0 1.0350 0 -68.603)">3</text>
<line x1="476.2" y1="1899" x2="484.5" y2="1899" stroke="#000" stroke-width="3" stroke-linecap="butt"/>
<text x="436.14" y="1908.3" text-anchor="start" style="font-family:'Liberation Sans', sans-serif;font-size:26px;font-weight:bold;" fill="#000" transform="matrix(1 0 0 1.0350 0 -66.790)">4</text>
<line x1="476.2" y1="1847.2" x2="484.5" y2="1847.2" stroke="#000" stroke-width="3" stroke-linecap="butt"/>
<text x="436.14" y="1856.5" text-anchor="start" style="font-family:'Liberation Sans', sans-serif;font-size:26px;font-weight:bold;" fill="#000" transform="matrix(1 0 0 1.0350 0 -64.977)">5</text>
<line x1="476.2" y1="1795.4" x2="484.5" y2="1795.4" stroke="#000" stroke-width="3" stroke-linecap="butt"/>
<text x="436.14" y="1804.7" text-anchor="start" style="font-family:'Liberation Sans', sans-serif;font-size:26px;font-weight:bold;" fill="#000" transform="matrix(1 0 0 1.0350 0 -63.164)">6</text>
<line x1="476.2" y1="1743.6" x2="484.5" y2="1743.6" stroke="#000" stroke-width="3" stroke-linecap="butt"/>
<text x="436.14" y="1752.9" text-anchor="start" style="font-family:'Liberation Sans', sans-serif;font-size:26px;font-weight:bold;" fill="#000" transform="matrix(1 0 0 1.0350 0 -61.351)">7</text>
<line x1="476.2" y1="1691.8" x2="484.5" y2="1691.8" stroke="#000" stroke-width="3" stroke-linecap="butt"/>
<text x="436.14" y="1701.1" text-anchor="start" style="font-family:'Liberation Sans', sans-serif;font-size:26px;font-weight:bold;" fill="#000" transform="matrix(1 0 0 1.0350 0 -59.538)">8</text>
<line x1="476.2" y1="1640" x2="484.5" y2="1640" stroke="#000" stroke-width="3" stroke-linecap="butt"/>
<text x="436.14" y="1649.3" text-anchor="start" style="font-family:'Liberation Sans', sans-serif;font-size:26px;font-weight:bold;" fill="#000" transform="matrix(1 0 0 1.0350 0 -57.725)">9</text>
<line x1="476.2" y1="1588.2" x2="484.5" y2="1588.2" stroke="#000" stroke-width="3" stroke-linecap="butt"/>
<path d="M431.53,1597.5 L431.53,1578.57 L428.75,1578.57 L422.85,1582.89 L422.85,1586.53 L427.89,1583.56 L427.89,1597.5Z" fill="#000"/>
<text x="436.14" y="1597.5" text-anchor="start" style="font-family:'Liberation Sans', sans-serif;font-size:26px;font-weight:bold;" fill="#000" transform="matrix(1 0 0 1.0350 0 -55.912)">0</text>
<rect x="490.2" y="2096.4" width="36.2" height="9.8" fill="#fff" stroke="#000" stroke-width="2.4" stroke-linejoin="round"/>
<rect x="534.4" y="2066.2" width="38.6" height="40" fill="#a1a1a1" stroke="#000" stroke-width="2.6" stroke-linejoin="round"/>
<rect x="536.4" y="2068.2" width="34.6" height="37.3" fill="none" stroke="#d6d6d6" stroke-width="1.4"/>
<rect x="578.1" y="2085.1" width="40.4" height="21.1" fill="#000"/>
<line x1="508.6" y1="2096" x2="508.6" y2="2089.4" stroke="#000" stroke-width="3" stroke-linecap="butt"/>
<line x1="504.05" y1="2089.4" x2="513.15" y2="2089.4" stroke="#000" stroke-width="3.5" stroke-linecap="round"/>
<line x1="554.6" y1="2066" x2="554.6" y2="2045.9" stroke="#000" stroke-width="3" stroke-linecap="butt"/>
<line x1="550.05" y1="2045.9" x2="559.15" y2="2045.9" stroke="#000" stroke-width="3.5" stroke-linecap="round"/>
<line x1="599.6" y1="2086" x2="599.6" y2="2072.4" stroke="#000" stroke-width="3" stroke-linecap="butt"/>
<line x1="595.55" y1="2072.4" x2="603.65" y2="2072.4" stroke="#000" stroke-width="3.5" stroke-linecap="round"/>
<rect x="647.7" y="1968.8" width="37.5" height="137.4" fill="#fff" stroke="#000" stroke-width="2.4" stroke-linejoin="round"/>
<rect x="691.5" y="1972.2" width="39.6" height="134" fill="#a1a1a1" stroke="#000" stroke-width="2.6" stroke-linejoin="round"/>
<rect x="693.5" y="1974.2" width="35.6" height="131.3" fill="none" stroke="#d6d6d6" stroke-width="1.4"/>
<rect x="735.2" y="1825.6" width="40.9" height="280.6" fill="#000"/>
<line x1="666.3" y1="1969" x2="666.3" y2="1934.1" stroke="#000" stroke-width="3" stroke-linecap="butt"/>
<line x1="661.5" y1="1934.1" x2="671.1" y2="1934.1" stroke="#000" stroke-width="3.5" stroke-linecap="round"/>
<line x1="712.4" y1="1972" x2="712.4" y2="1925.7" stroke="#000" stroke-width="3" stroke-linecap="butt"/>
<line x1="707.6" y1="1925.7" x2="717.2" y2="1925.7" stroke="#000" stroke-width="3.5" stroke-linecap="round"/>
<line x1="756.1" y1="1827" x2="756.1" y2="1676.5" stroke="#000" stroke-width="3" stroke-linecap="butt"/>
<line x1="751.3" y1="1676.5" x2="760.9" y2="1676.5" stroke="#000" stroke-width="3.5" stroke-linecap="round"/>
<rect x="804.9" y="1848.4" width="38.2" height="257.8" fill="#fff" stroke="#000" stroke-width="2.4" stroke-linejoin="round"/>
<rect x="848.6" y="1952.3" width="39.8" height="153.9" fill="#a1a1a1" stroke="#000" stroke-width="2.6" stroke-linejoin="round"/>
<rect x="850.6" y="1954.3" width="35.8" height="151.2" fill="none" stroke="#d6d6d6" stroke-width="1.4"/>
<rect x="893.5" y="2015" width="40.4" height="91.2" fill="#000"/>
<line x1="824.4" y1="1849" x2="824.4" y2="1793.4" stroke="#000" stroke-width="3" stroke-linecap="butt"/>
<line x1="819.6" y1="1793.4" x2="829.2" y2="1793.4" stroke="#000" stroke-width="3.5" stroke-linecap="round"/>
<line x1="867.6" y1="1952" x2="867.6" y2="1898.8" stroke="#000" stroke-width="3" stroke-linecap="butt"/>
<line x1="862.8" y1="1898.8" x2="872.4" y2="1898.8" stroke="#000" stroke-width="3.5" stroke-linecap="round"/>
<line x1="913.4" y1="2016" x2="913.4" y2="1979.7" stroke="#000" stroke-width="3" stroke-linecap="butt"/>
<line x1="908.6" y1="1979.7" x2="918.2" y2="1979.7" stroke="#000" stroke-width="3.5" stroke-linecap="round"/>
<line x1="826.5" y1="1773.7" x2="912.1" y2="1773.7" stroke="#000" stroke-width="2.2" stroke-linecap="round"/>
<path d="M872.9,1757.6L872.9,1766M868.44,1759.53L877.36,1764.07M868.44,1764.07L877.36,1759.53" stroke="#383838" stroke-width="2.1" stroke-linecap="round" fill="none"/>
<circle cx="872.9" cy="1761.8" r="1.8" fill="#000"/>
<text x="479.66" y="2137.5" textLength="44.91" lengthAdjust="spacingAndGlyphs" style="font-family:'Liberation Sans', sans-serif;font-size:28px;font-weight:bold;" fill="#000">+/+</text>
<text x="531.79" y="2137.5" textLength="36.22" lengthAdjust="spacingAndGlyphs" style="font-family:'Liberation Sans', sans-serif;font-size:28px;font-weight:bold;" fill="#000">+/-</text>
<text x="582.16" y="2137.5" textLength="29.24" lengthAdjust="spacingAndGlyphs" style="font-family:'Liberation Sans', sans-serif;font-size:28px;font-weight:bold;" fill="#000">-/-</text>
<text x="627.25" y="2137.5" textLength="45.02" lengthAdjust="spacingAndGlyphs" style="font-family:'Liberation Sans', sans-serif;font-size:28px;font-weight:bold;" fill="#000">+/+</text>
<text x="679.39" y="2137.5" textLength="36.22" lengthAdjust="spacingAndGlyphs" style="font-family:'Liberation Sans', sans-serif;font-size:28px;font-weight:bold;" fill="#000">+/-</text>
<text x="729.76" y="2137.5" textLength="29.24" lengthAdjust="spacingAndGlyphs" style="font-family:'Liberation Sans', sans-serif;font-size:28px;font-weight:bold;" fill="#000">-/-</text>
<text x="780.15" y="2137.5" textLength="45.33" lengthAdjust="spacingAndGlyphs" style="font-family:'Liberation Sans', sans-serif;font-size:28px;font-weight:bold;" fill="#000">+/+</text>
<text x="832.06" y="2137.5" textLength="37.18" lengthAdjust="spacingAndGlyphs" style="font-family:'Liberation Sans', sans-serif;font-size:28px;font-weight:bold;" fill="#000">+/-</text>
<text x="882.56" y="2137.5" textLength="29.35" lengthAdjust="spacingAndGlyphs" style="font-family:'Liberation Sans', sans-serif;font-size:28px;font-weight:bold;" fill="#000">-/-</text>
<path d="M536.8,2152.6L519.2,2161.45L536.8,2170.3" stroke="#000" stroke-width="2.2" fill="none" stroke-linecap="round" stroke-linejoin="miter"/>
<path d="M558.18,2169.8 L558.18,2148.32 L555.02,2148.32 L548.33,2153.22 L548.33,2157.35 L554.05,2153.99 L554.05,2169.8Z" fill="#000"/>
<path d="M615.4,2152.6L632.8,2159.25L615.4,2165.9M615.4,2171.4L632.8,2171.4" stroke="#000" stroke-width="2.4" fill="none" stroke-linecap="round"/>
<path d="M655.68,2170 L655.68,2148.52 L652.52,2148.52 L645.83,2153.42 L645.83,2157.55 L651.55,2154.19 L651.55,2170Z" fill="#000"/>
<text x="670.64" y="2170" textLength="55.54" lengthAdjust="spacingAndGlyphs" style="font-family:'Liberation Serif', serif;font-size:30.5px;font-weight:bold;font-style:italic;" fill="#000">and</text>
<path d="M755,2152.4L737.2,2161.1L755,2169.8" stroke="#000" stroke-width="2.2" fill="none" stroke-linecap="round" stroke-linejoin="miter"/>
<text x="766.51" y="2170" textLength="15.76" lengthAdjust="spacingAndGlyphs" style="font-family:'Liberation Sans', sans-serif;font-size:29.5px;font-weight:bold;" fill="#000" transform="matrix(1 0 0 1.0350 0 -75.950)">2</text>
<path d="M840,2152.8L856.8,2159.65L840,2166.5M840,2171.4L856.8,2171.4" stroke="#000" stroke-width="2.4" fill="none" stroke-linecap="round"/>
<text x="866.54" y="2170" textLength="15.29" lengthAdjust="spacingAndGlyphs" style="font-family:'Liberation Sans', sans-serif;font-size:29.5px;font-weight:bold;" fill="#000" transform="matrix(1 0 0 1.0350 0 -75.950)">2</text>
<text transform="translate(404.3,0) rotate(-90)" x="-1956.18" y="0" textLength="273.51" lengthAdjust="spacingAndGlyphs" style="font-family:'Liberation Sans', sans-serif;font-size:33px;font-weight:bold;">Number of Polyps</text>
</svg>
</body></html>
